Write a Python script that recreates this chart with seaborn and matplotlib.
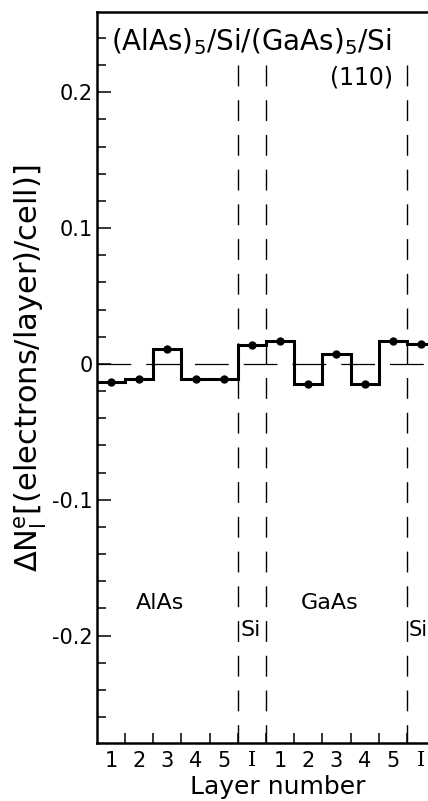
import matplotlib
matplotlib.use("Agg")
import matplotlib.pyplot as plt
import numpy as np
import pandas as pd
import seaborn as sns

# layer-resolved excess charge, (AlAs)5/Si/(GaAs)5/Si (110)
layer_labels = ["1", "2", "3", "4", "5", "I", "1", "2", "3", "4", "5", "I"]
delta_n = [-0.013, -0.011, 0.011, -0.011, -0.011, 0.014,
           0.017, -0.015, 0.007, -0.015, 0.017, 0.015]
interface_bounds = [5, 6, 11]
y_major = [0.2, 0.1, 0.0, -0.1, -0.2]
y_major_labels = ["0.2", "0.1", "0", "-0.1", "-0.2"]

df = pd.DataFrame({"layer": np.arange(len(delta_n)) + 0.5, "dn": delta_n})
edges = np.arange(len(delta_n) + 1)

sns.set_style("ticks")
plt.rcParams["font.family"] = ["DejaVu Sans"]
plt.rcParams.update({"text.color": "black", "axes.labelcolor": "black",
                     "xtick.color": "black", "ytick.color": "black",
                     "axes.edgecolor": "black"})

fig = plt.figure(figsize=(4.28, 8.01), dpi=100)
ax = fig.add_axes([0.2262, 0.0724, 0.7738, 0.9126])

# zero reference line
ax.axhline(0, color="black", lw=0.9, linestyle=(0, (27, 12)), zorder=1)

# interface markers
for b in interface_bounds:
    ax.plot([b, b], [0.22, -0.285], color="black", lw=1.0,
            linestyle=(0, (15, 10)), zorder=1)

ax.stairs(df["dn"], edges, baseline=None, color="black", lw=2.2, zorder=3)
sns.scatterplot(data=df, x="layer", y="dn", ax=ax, color="black", s=36,
                edgecolor="black", linewidth=0, zorder=4)

ax.set_xlim(0, 11.745)
ax.set_ylim(-0.279, 0.259)

ax.set_xticks(edges[1:-1])
ax.set_xticklabels([])
ax.set_xticks(df["layer"], minor=True)
ax.set_xticklabels(layer_labels, minor=True, fontsize=15)
for t in ax.get_xticklabels(minor=True):
    if t.get_text() == "I":
        t.set_family("DejaVu Serif")
ax.tick_params(axis="x", which="major", direction="in", length=7, width=1.1)
ax.tick_params(axis="x", which="minor", length=0, pad=6)

ax.set_yticks(y_major)
ax.set_yticklabels(y_major_labels, fontsize=15)
ax.set_yticks(np.arange(-0.26, 0.25, 0.02), minor=True)
ax.tick_params(axis="y", which="major", direction="in", length=10, width=1.1, pad=3)
ax.tick_params(axis="y", which="minor", direction="in", length=6.5, width=1.1)

for side in ["left", "bottom", "top"]:
    ax.spines[side].set_linewidth(1.8)
ax.spines["right"].set_visible(False)

ax.set_xlabel("Layer number", fontsize=18)
ax.xaxis.set_label_coords(0.547, -0.044)
ax.set_ylabel(r"$\Delta\mathrm{N}_\mathrm{l}^\mathrm{e}$[(electrons/layer)/cell)]", fontsize=22)
ax.yaxis.set_label_coords(-0.145, 0.512)

ax.text(0.5, 0.231, r"(AlAs)$_5$/Si/(GaAs)$_5$/Si", fontsize=20, ha="left", va="baseline")
ax.text(9.37, 0.211, "(110)", fontsize=17, ha="center", va="center")
ax.text(2.24, -0.176, "AlAs", fontsize=16, ha="center", va="center")
ax.text(8.27, -0.176, "GaAs", fontsize=16, ha="center", va="center")
ax.text(5.1, -0.196, "Si", fontsize=16, ha="left", va="center")
ax.text(11.05, -0.196, "Si", fontsize=15, ha="left", va="center")

fig.savefig("out.png", dpi=100)
